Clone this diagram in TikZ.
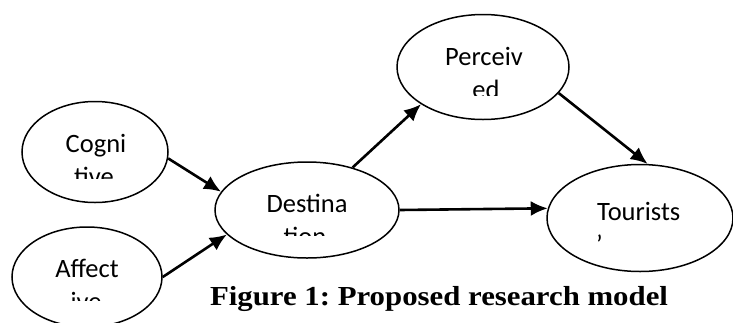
\documentclass[tikz,border=0pt]{standalone}
\usepackage{fontspec}
\setmainfont{Liberation Serif}
\newfontfamily\calib{Carlito}
\usetikzlibrary{arrows.meta,shapes.geometric}
\frenchspacing

\begin{document}
\begin{tikzpicture}[x=1pt,y=-1pt,>={Latex[length=17pt,width=15pt]},
  construct/.style={draw,line width=1.5pt,ellipse,inner sep=0pt},
  word/.style={font=\calib\fontsize{26.5}{30}\selectfont,inner sep=0pt,anchor=base},
  link/.style={->,line width=2.6pt}]
\useasboundingbox (0,0) rectangle (733,322);
% constructs
\node[construct,minimum width=146,minimum height=101] (cog) at (95,152) {};
\node[construct,minimum width=150,minimum height=100] (aff) at (87,277) {};
\node[construct,minimum width=184,minimum height=96] (dest) at (307,210) {};
\node[construct,minimum width=172,minimum height=105] (perc) at (483,67) {};
\node[construct,minimum width=186,minimum height=107] (tour) at (640,218) {};
% first lines
\node[word] (cogA) at (96,152) {Cogni};
\node[word] (affA) at (87,277) {Affect};
\node[word] (destA) at (307,212) {Destina};
\node[word] (percA) at (484,65) {Perceiv};
\node[word,anchor=base west] (tourA) at (597,220) {Tourists};
% second lines, cut off by the text box
\begin{scope}\clip (50,160) rectangle (140,178);\node[word] (cogB) at (94,185) {tive};\end{scope}
\begin{scope}\clip (40,285) rectangle (130,300);\node[word] (affB) at (86,310) {ive};\end{scope}
\begin{scope}\clip (260,220) rectangle (350,235);\node[word] (destB) at (305,245) {tion};\end{scope}
\begin{scope}\clip (440,75) rectangle (530,95);\node[word] (percB) at (486,98) {ed};\end{scope}
\begin{scope}\clip (590,228) rectangle (680,247);\node[word,anchor=base west] (tourB) at (596,253) {’};\end{scope}
% paths
\draw[link] (cog.-5) -- (dest.168);
\draw[link] (aff.0) -- (dest.-163);
\draw[link] (dest.43) -- (perc.211);
\draw[link] (perc.-19) -- (tour.82);
\draw[link] (dest.0) -- (tour.174);
\node[font=\bfseries\fontsize{27.5}{32}\selectfont,inner sep=0pt,anchor=base,xscale=1.12] (cap) at (439,305) {Figure 1: Proposed research model};
\end{tikzpicture}
\end{document}
